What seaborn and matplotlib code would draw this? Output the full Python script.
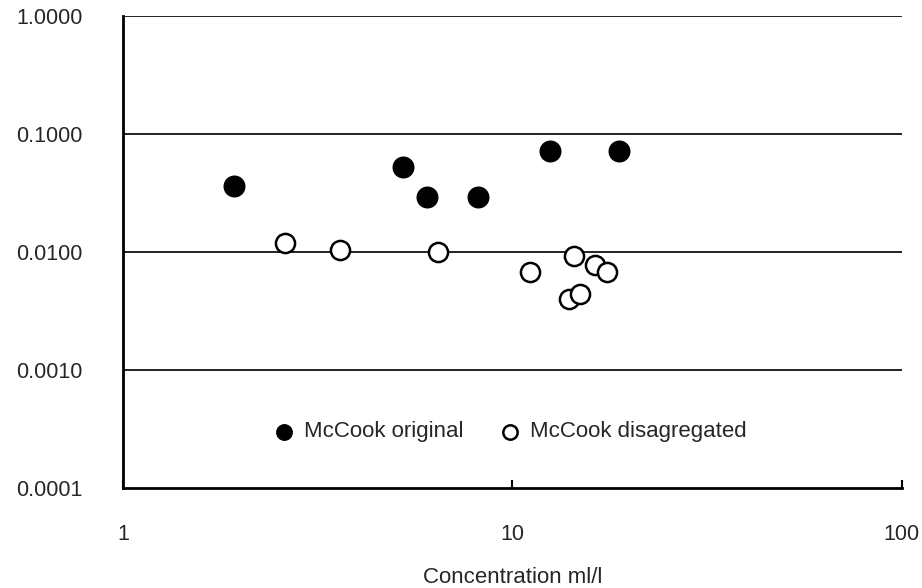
import matplotlib
matplotlib.use("Agg")
import matplotlib.pyplot as plt
import seaborn as sns
import pandas as pd
from matplotlib.ticker import FixedLocator, FixedFormatter, NullLocator

# Concentration (ml/l) and measured values for each sample group
orig_conc = [1.93, 5.23, 6.03, 8.14, 12.5, 18.8]
orig_val = [0.036, 0.052, 0.029, 0.029, 0.071, 0.071]

disag_conc = [2.61, 3.61, 6.43, 11.1, 14.4, 16.3, 17.5, 14.0, 14.9]
disag_val = [0.0120, 0.0103, 0.0099, 0.0067, 0.0092, 0.0078, 0.0067, 0.0040, 0.0044]

group_names = ["McCook original", "McCook disagregated"]

x_ticks = [1, 10, 100]
x_tick_labels = ["1", "10", "100"]
y_ticks = [0.0001, 0.001, 0.01, 0.1, 1.0]
y_tick_labels = ["0.0001", "0.0010", "0.0100", "0.1000", "1.0000"]

df = pd.concat([
    pd.DataFrame({"conc": orig_conc, "val": orig_val, "group": group_names[0]}),
    pd.DataFrame({"conc": disag_conc, "val": disag_val, "group": group_names[1]}),
], ignore_index=True)

sns.set_style("white")
plt.rcParams["font.family"] = ["Liberation Sans", "DejaVu Sans"]

fig = plt.figure(figsize=(9.22, 5.88), dpi=100)
ax = fig.add_axes([0.1334, 0.170, 0.8446, 0.803])

sns.scatterplot(data=df[df.group == group_names[0]], x="conc", y="val",
                ax=ax, color="black", edgecolor="black", s=220, linewidth=1,
                label=group_names[0], zorder=3)
sns.scatterplot(data=df[df.group == group_names[1]], x="conc", y="val",
                ax=ax, facecolor="white", edgecolor="black", s=190, linewidth=1.8,
                label=group_names[1], zorder=3)

ax.set_xscale("log")
ax.set_yscale("log")
ax.set_xlim(1, 100)
ax.set_ylim(0.0001, 1.0)

ax.xaxis.set_major_locator(FixedLocator(x_ticks))
ax.xaxis.set_major_formatter(FixedFormatter(x_tick_labels))
ax.xaxis.set_minor_locator(NullLocator())
ax.yaxis.set_major_locator(FixedLocator(y_ticks))
ax.yaxis.set_major_formatter(FixedFormatter(y_tick_labels))
ax.yaxis.set_minor_locator(NullLocator())

# Horizontal gridlines at each decade
for yv in y_ticks[1:]:
    ax.axhline(yv, color="#222222", linewidth=1.4, zorder=1)

for side in ["top", "right"]:
    ax.spines[side].set_visible(False)
for side in ["left", "bottom"]:
    ax.spines[side].set_color("black")
    ax.spines[side].set_linewidth(2.0)

ax.tick_params(axis="x", which="major", direction="in", length=6, width=1.5,
               color="black", pad=26, labelsize=15.5)
ax.tick_params(axis="y", which="major", length=0, pad=29, labelsize=15.5)
ax.tick_params(bottom=True, left=False)

ax.set_xlabel("Concentration ml/l", fontsize=16, labelpad=16)
ax.set_ylabel("")

leg = ax.legend(loc="center", bbox_to_anchor=(0.497, 0.119), ncol=2, frameon=False,
                fontsize=16, handlelength=1.0, handletextpad=0.4,
                columnspacing=1.6, markerscale=0.75)

fig.savefig("out.png", dpi=100, facecolor="white")
